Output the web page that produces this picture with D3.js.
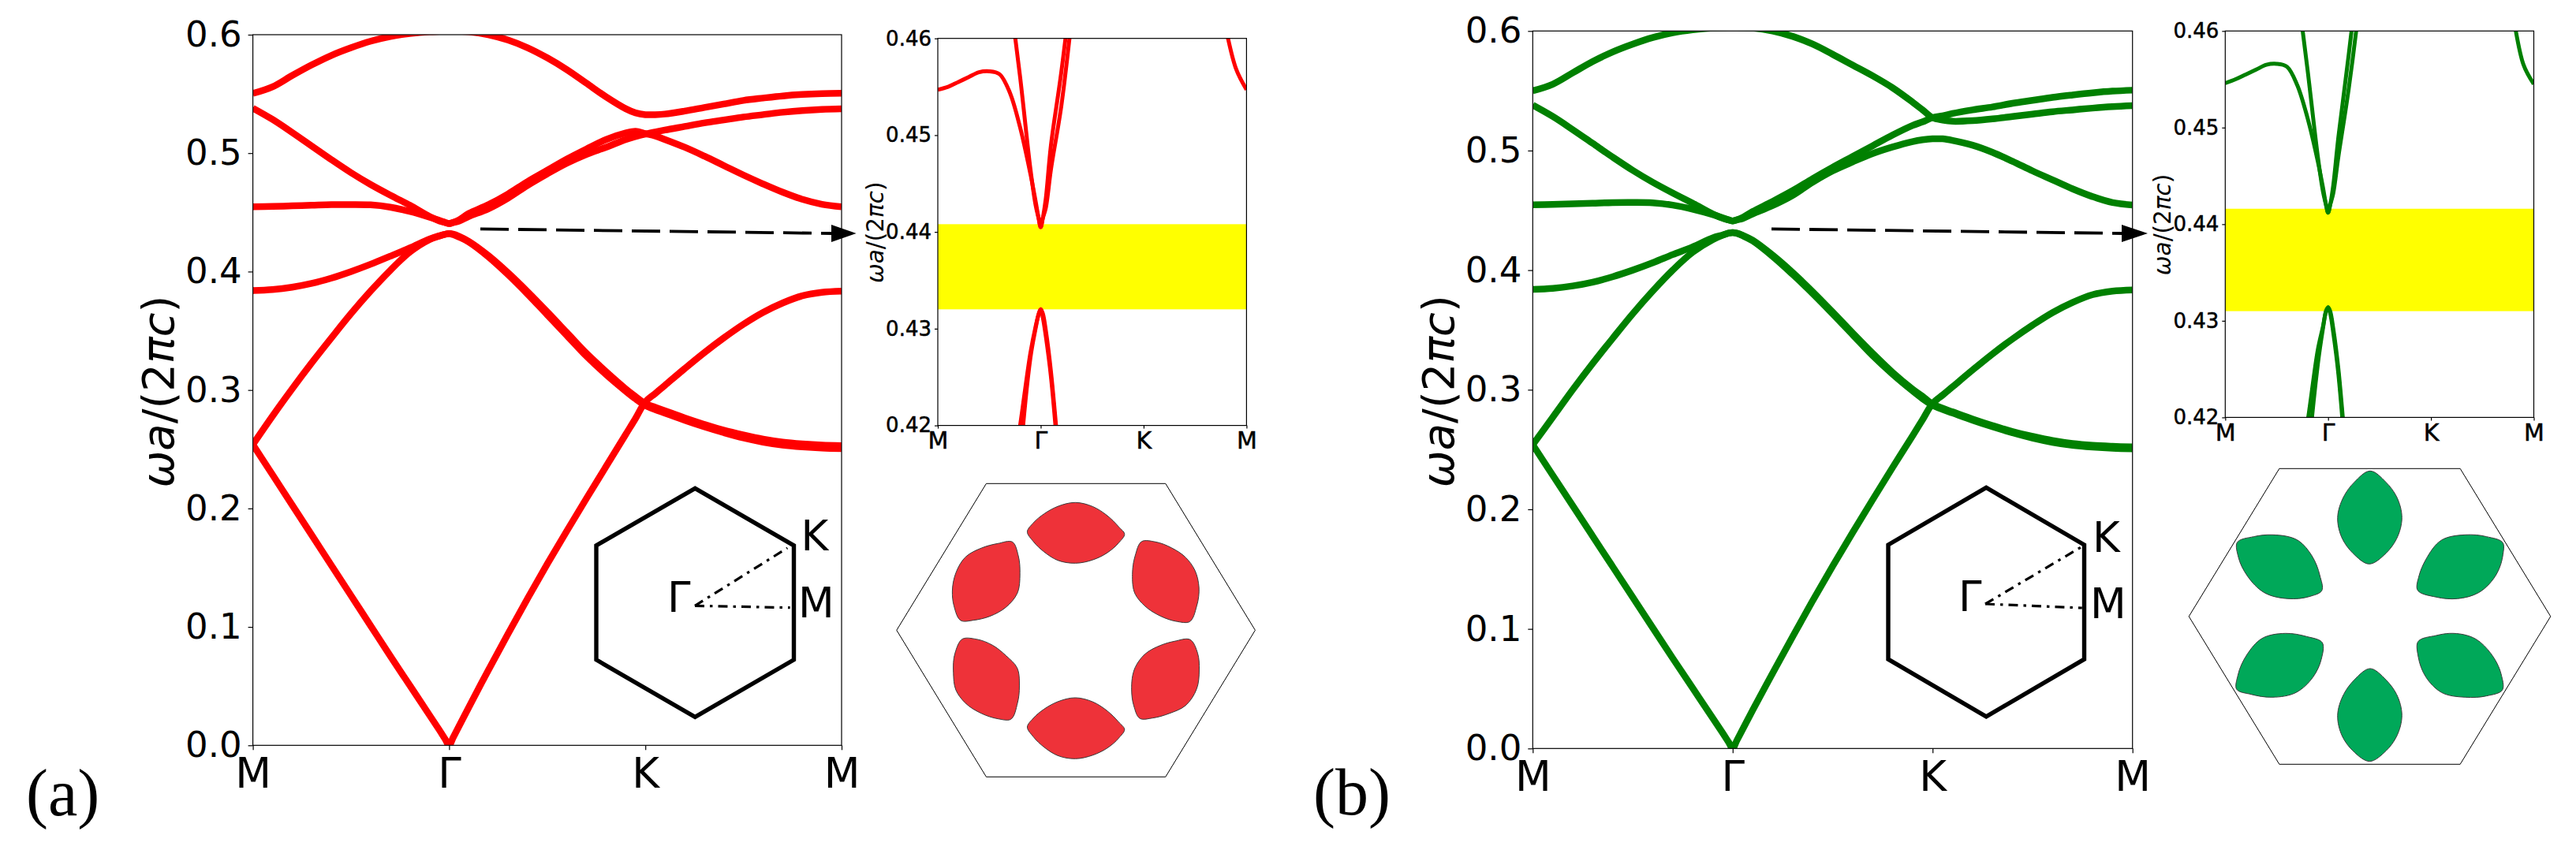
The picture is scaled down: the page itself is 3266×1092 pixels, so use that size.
<!DOCTYPE html>
<html><head><meta charset="utf-8">
<script src="https://cdn.jsdelivr.net/npm/d3@7"></script>
<style>html,body{margin:0;background:#fff}svg{display:block}text{font-family:"DejaVu Sans"}</style>
</head><body><svg id="c" width="3266" height="1092"></svg>
<script>
const kTickValues=[0,1,2,3];
const kTickLabels=["M","Γ","K","M"];
const mainYTicks=[0,.1,.2,.3,.4,.5,.6];
const insetYTicks=[.42,.43,.44,.45,.46];
const kGrid=[0,.1,.2,.3,.4,.5,.6,.7,.8,.9,.95,.98,1,1.02,1.05,1.1,1.2,1.3,1.4,1.5,1.6,1.7,1.8,1.9,1.95,2,2.05,2.1,2.2,2.3,2.4,2.5,2.6,2.7,2.8,2.9,3];

const aBand1=[.254,.2285,.203,.1775,.152,.1265,.101,.0755,.0505,.0255,.013,.0052,0,.0064,.016,.032,.0635,.094,.124,.153,.181,.2085,.2355,.2625,.276,.290,.297,.304,.318,.3315,.344,.3555,.3655,.3735,.3795,.3825,.3835];
const aBand2=[.254,.278,.301,.323,.344,.3645,.3835,.401,.4165,.427,.4300,.4315,.432,.4316,.4298,.4255,.4135,.399,.383,.366,.3485,.331,.3155,.301,.2945,.2885,.2855,.2825,.2765,.271,.266,.262,.2585,.256,.2545,.2535,.253];
const aBand3=[.384,.3848,.3868,.390,.3945,.400,.4062,.413,.420,.4275,.4302,.4315,.432,.4312,.4292,.425,.4125,.3975,.381,.3635,.346,.3285,.313,.299,.2925,.287,.2835,.2805,.2745,.269,.264,.2595,.256,.2535,.252,.251,.2505];
const aBand4=[.4547,.4550,.4555,.4560,.4565,.4566,.4563,.4544,.4508,.4460,.4432,.4414,.4405,.4414,.4425,.4465,.453,.462,.4728,.4825,.4915,.499,.505,.5115,.514,.516,.5178,.5195,.5225,.5255,.528,.5305,.5325,.5345,.536,.537,.5375];
const aBand5=[.538,.5285,.5175,.506,.4945,.4835,.4735,.4645,.456,.4465,.4428,.4414,.4405,.4414,.4435,.449,.4565,.4655,.476,.4855,.495,.5035,.5115,.517,.5185,.5165,.5145,.5115,.505,.4975,.4895,.4815,.474,.467,.461,.4568,.4547];
const aBand6=[.5504,.556,.5655,.5745,.5825,.589,.5945,.5985,.601,.6025,.6028,.603,.603,.603,.6028,.6025,.600,.5955,.589,.5805,.5705,.559,.5475,.5375,.534,.5325,.5325,.533,.5355,.5385,.5415,.5445,.5465,.5483,.5495,.5502,.5505];

const bBand1=[.254,.2285,.203,.1775,.152,.1265,.101,.0755,.0505,.0255,.013,.0052,0,.0064,.016,.032,.063,.0935,.1235,.1525,.1805,.208,.235,.2615,.275,.2885,.2955,.3025,.3165,.330,.3425,.354,.3645,.373,.3795,.3825,.3835];
const bBand2=[.254,.277,.300,.322,.343,.3635,.3825,.400,.415,.4255,.4292,.431,.4314,.431,.4292,.425,.4125,.398,.382,.365,.3475,.3305,.3145,.3005,.2945,.288,.2845,.2815,.2755,.27,.265,.261,.2575,.255,.2535,.2527,.2522];
const bBand3=[.384,.3848,.3868,.390,.3945,.400,.4062,.413,.4195,.427,.4294,.431,.4314,.4308,.4288,.4245,.4115,.3965,.3805,.3635,.346,.3285,.313,.299,.2925,.287,.2835,.2805,.2745,.269,.264,.2595,.256,.2535,.252,.251,.2505];
const bBand4=[.4546,.455,.4555,.456,.4565,.4566,.4563,.4544,.451,.4465,.4438,.442,.4412,.442,.4432,.447,.454,.4625,.4735,.483,.4905,.4975,.503,.5075,.509,.5098,.5098,.5085,.5045,.4985,.491,.483,.4755,.468,.4615,.4565,.4545];
const bBand5=[.538,.5285,.5175,.506,.4945,.4835,.4735,.4645,.456,.4470,.4434,.442,.4412,.442,.444,.449,.4575,.4665,.4765,.486,.495,.504,.513,.521,.524,.5275,.529,.531,.534,.5365,.5395,.542,.5445,.5465,.5483,.5497,.5505];
const bBand6=[.550,.5555,.565,.5745,.5825,.589,.5945,.5985,.601,.6025,.6028,.603,.603,.603,.6028,.6025,.600,.5955,.589,.5805,.5715,.5625,.5525,.5405,.534,.5275,.5255,.5245,.525,.5265,.5285,.5305,.5325,.534,.5355,.5367,.5375];

const aGap=[.432,.4408];
const bGap=[.431,.4416];

// unit hexagons
const bzHex=[[0,1],[1,.5],[1,-.5],[0,-1],[-1,-.5],[-1,.5]];
const cellHex=[[-1,0],[-.5,1],[.5,1],[1,0],[.5,-1],[-.5,-1]];

// unit-cell inclusions, in the units of the hexagon's own picture
const aBlobs=[
[[588,283],[610,250],[650,215],[700,187],[765,172],[830,188],[880,220],[925,265],[946,292],[925,325],[880,365],[830,390],[765,403],[700,392],[650,360],[610,320]],
[[588,1026],[610,993],[650,958],[700,930],[765,915],[830,931],[880,963],[925,1008],[946,1035],[925,1068],[880,1108],[830,1133],[765,1147],[700,1135],[650,1103],[610,1063]],
[[1010,320],[1060,322],[1120,345],[1170,380],[1205,430],[1220,495],[1212,565],[1183,627],[1140,625],[1080,605],[1020,565],[985,520],[975,445],[985,375]],
[[345,622],[318,565],[312,510],[325,440],[360,380],[420,345],[480,328],[533,322],[555,375],[561,440],[550,520],[510,570],[450,605],[390,620]],
[[350,691],[400,692],[460,715],[510,755],[550,800],[559,870],[552,935],[525,998],[480,995],[420,975],[360,935],[325,885],[316,820],[322,745]],
[[1188,694],[1215,745],[1221,810],[1212,880],[1170,945],[1110,975],[1050,992],[1003,994],[980,945],[972,885],[985,800],[1020,750],[1080,715],[1130,700]]
];
const bBlobs=[
[[790,82],[850,125],[890,180],[910,260],[890,340],[850,395],[786,436],[725,395],[685,340],[667,260],[690,180],[730,125]],
[[790,834],[850,877],[890,932],[910,1012],[890,1092],[850,1147],[788,1187],[725,1147],[685,1092],[667,1012],[690,932],[730,877]],
[[1293,358],[1292,400],[1270,470],[1200,545],[1120,568],[1040,562],[968,533],[975,480],[1000,420],[1060,345],[1150,325],[1230,332]],
[[287,355],[350,332],[420,325],[520,348],[570,405],[600,480],[607,538],[560,560],[480,568],[390,545],[325,480],[292,410]],
[[609,735],[605,800],[575,865],[510,925],[420,943],[340,932],[285,912],[290,860],[325,780],[380,720],[470,700],[550,712]],
[[970,733],[1040,708],[1090,700],[1190,722],[1245,775],[1285,855],[1290,915],[1230,938],[1150,943],[1060,925],[1000,865],[972,790]]
];

const svg=d3.select("#c");
let clipId=0;

function yLabel(g,x,y,size){
  const t=g.append("text").attr("transform",`translate(${x},${y}) rotate(-90)`)
    .attr("text-anchor","middle").attr("font-size",size).attr("fill","#000");
  [["ωa","italic"],["/(2","normal"],["πc","italic"],[")","normal"]].forEach(([s,st])=>
    t.append("tspan").attr("font-style",st).text(s));
}

function axes(g,box,yDomain,yTicks,fmt,o,bands,color,gap){
  const x=d3.scaleLinear().domain([0,3]).range([box.l,box.r]);
  const y=d3.scaleLinear().domain(yDomain).range([box.b,box.t]);
  if(gap) g.append("rect").attr("x",box.l).attr("width",box.r-box.l)
      .attr("y",y(gap[1])).attr("height",y(gap[0])-y(gap[1])).attr("fill","#ffff00");
  const id="clip"+(clipId++);
  g.append("clipPath").attr("id",id).append("rect")
    .attr("x",box.l).attr("y",box.t).attr("width",box.r-box.l).attr("height",box.b-box.t);
  const line=d3.line().x((d,i)=>x(kGrid[i])).y(d=>y(d)).curve(d3.curveCatmullRom.alpha(.5));
  g.append("g").attr("clip-path",`url(#${id})`).selectAll("path").data(bands).join("path")
    .attr("d",line).attr("fill","none").attr("stroke",color).attr("stroke-width",o.lw)
    .attr("stroke-linejoin","round");
  g.append("rect").attr("x",box.l).attr("y",box.t).attr("width",box.r-box.l).attr("height",box.b-box.t)
    .attr("fill","none").attr("stroke","#000").attr("stroke-width",o.ax);
  const ax=g.append("g").attr("transform",`translate(0,${box.b})`)
    .call(d3.axisBottom(x).tickValues(kTickValues).tickFormat((d,i)=>kTickLabels[i]).tickSize(o.tick).tickPadding(o.xpad));
  const ay=g.append("g").attr("transform",`translate(${box.l},0)`)
    .call(d3.axisLeft(y).tickValues(yTicks).tickFormat(fmt).tickSize(o.tick).tickPadding(o.ypad));
  [ax,ay].forEach(a=>{a.select(".domain").remove();
    a.selectAll("line").attr("stroke","#000").attr("stroke-width",o.ax);
    a.selectAll("text").attr("fill","#000").attr("font-family","DejaVu Sans")
     .attr("stroke","#000").attr("stroke-width",o.bold);});
  ax.selectAll("text").attr("font-size",o.xfs);
  ay.selectAll("text").attr("font-size",o.yfs);
}

function bzInset(g,h){
  const x=d3.scaleLinear().domain([-1,1]).range([h.l,h.r]);
  const y=d3.scaleLinear().domain([-1,1]).range([h.b,h.t]);
  g.append("path").attr("d",d3.line().x(d=>x(d[0])).y(d=>y(d[1])).curve(d3.curveLinearClosed)(bzHex))
    .attr("fill","none").attr("stroke","#000").attr("stroke-width",5.4).attr("stroke-linejoin","miter");
  [h.K,h.M].forEach(e=>g.append("line").attr("x1",h.c[0]).attr("y1",h.c[1]).attr("x2",e[0]).attr("y2",e[1])
    .attr("stroke","#000").attr("stroke-width",3.2).attr("stroke-dasharray","12 7 3.5 7"));
  h.labels.forEach(([s,lx,ly])=>g.append("text").attr("x",lx).attr("y",ly).attr("font-size",53).attr("fill","#000").text(s));
}

function cell(g,c,blobs,color){
  const x=d3.scaleLinear().domain([-1,1]).range([c.l,c.r]);
  const y=d3.scaleLinear().domain([-1,1]).range([c.b,c.t]);
  g.append("path").attr("d",d3.line().x(d=>x(d[0])).y(d=>y(d[1])).curve(d3.curveLinearClosed)(cellHex))
    .attr("fill","none").attr("stroke","#000").attr("stroke-width",1);
  const px=d3.scaleLinear().domain(c.picX).range([c.l,c.r]);
  const py=d3.scaleLinear().domain(c.picY).range([c.t,c.b]);
  const blob=d3.line().x(d=>px(d[0])).y(d=>py(d[1])).curve(d3.curveCatmullRomClosed.alpha(1));
  g.selectAll(".blob").data(blobs).join("path").attr("class","blob").attr("d",blob)
    .attr("fill",color).attr("stroke","#3a3a3a").attr("stroke-width",1);
}

function arrow(g,a){
  g.append("line").attr("x1",a.x0).attr("y1",a.y0).attr("x2",a.x1).attr("y2",a.y1)
    .attr("stroke","#000").attr("stroke-width",3.8).attr("stroke-dasharray","36 12");
  g.append("path").attr("d",`M${a.x1-1},${a.y1-11}L${a.tip},${a.y1}L${a.x1-1},${a.y1+11}Z`).attr("fill","#000");
}

function panel(p){
  const g=svg.append("g");
  axes(g,p.main,[0,.6],mainYTicks,d3.format(".1f"),{lw:8.5,ax:1.2,tick:6,xpad:10,ypad:8,xfs:53,yfs:45,bold:0},p.bands,p.color,null);
  axes(g,p.inset,[.42,.46],insetYTicks,d3.format(".2f"),{lw:5,ax:1.2,tick:4,xpad:4,ypad:4,xfs:30,yfs:26,bold:.5},p.bands,p.color,p.gap);
  yLabel(g,p.yl[0],p.yl[1],56);
  yLabel(g,p.yli[0],p.yli[1],29.5);
  bzInset(g,p.bz);
  cell(g,p.cell,p.blobs,p.blobColor);
  arrow(g,p.arrow);
  g.append("text").attr("x",p.tag[0]).attr("y",p.tag[1]).style("font-family","'Liberation Serif'")
    .attr("font-size",84).attr("fill","#000").text(p.tag[2]);
}

panel({color:"#ff0000",blobColor:"#ee3239",
  bands:[aBand1,aBand2,aBand3,aBand4,aBand5,aBand6],gap:aGap,
  main:{l:320.6,r:1067,t:44,b:945.3},inset:{l:1189,r:1580.4,t:48.7,b:539.6},
  yl:[220,496.6],yli:[1120,294.7],
  bz:{l:756,r:1006.5,t:619.3,b:909.3,c:[881,768.3],K:[998.3,695],M:[1001.7,770.7],
      labels:[["K",1015.5,698],["M",1012,782.7],["Γ",846,775.7]]},
  cell:{l:1136.8,r:1591.4,t:613.3,b:985.3,picX:[107,1427],picY:[100,1216]},blobs:aBlobs,
  arrow:{x0:609,y0:290.4,x1:1055,y1:296,tip:1085.6},tag:[33,1034,"(a)"]});

panel({color:"#008000",blobColor:"#00a859",
  bands:[bBand1,bBand2,bBand3,bBand4,bBand5,bBand6],gap:bGap,
  main:{l:1943.3,r:2703.7,t:39.3,b:949.3},inset:{l:2821.3,r:3212.5,t:39.3,b:529.4},
  yl:[1843,496.2],yli:[2751.7,284.9],
  bz:{l:2394,r:2642.5,t:618.4,b:908.8,c:[2517,766],K:[2637.8,694.3],M:[2639.8,771],
      labels:[["K",2653,700],["M",2650,783.5],["Γ",2483,775]]},
  cell:{l:2775.2,r:3233.8,t:594.3,b:969.3,picX:[105,1472],picY:[73,1198]},blobs:bBlobs,
  arrow:{x0:2246,y0:290.4,x1:2691,y1:296,tip:2723},tag:[1665,1033,"(b)"]});
</script></body></html>
